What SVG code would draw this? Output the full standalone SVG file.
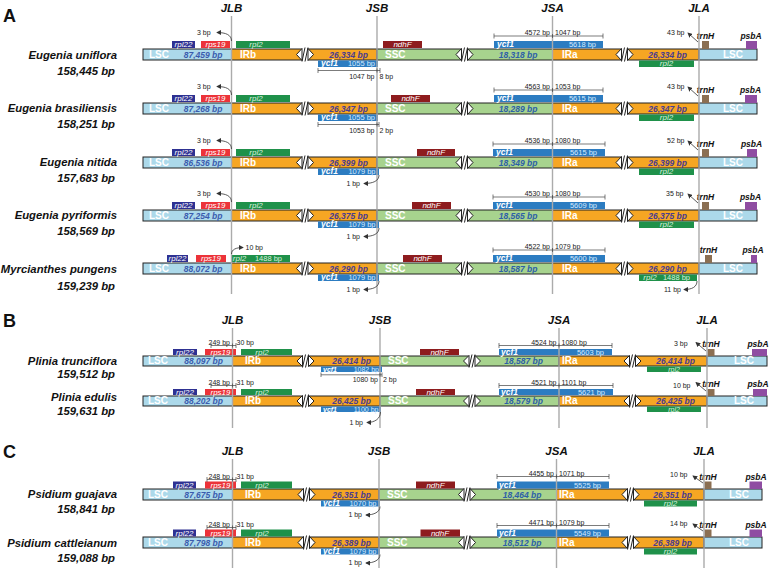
<svg xmlns="http://www.w3.org/2000/svg" width="771" height="568" viewBox="0 0 771 568">
<style>
text{font-family:"Liberation Sans",Arial,Helvetica,sans-serif}
.rpl22{fill:#2e3192}.rps19{fill:#ec3339}.rpl2{fill:#1f914a}.ndhF{fill:#8e1c1e}.ycf1{fill:#2c7cc1}.trnH{fill:#8b6f52}.psbA{fill:#8f4da2}
.jl{stroke:#ababab;stroke-width:1.4;fill:none}
.pl{font-size:18px;font-weight:bold;fill:#111}
.hd{font-size:11.5px;font-weight:bold;font-style:italic;text-anchor:middle;fill:#111}
.sp{font-size:11.3px;font-weight:bold;font-style:italic;text-anchor:end;fill:#111}
.seg{font-size:10px;font-weight:bold;fill:#fff}
.nl,.ni,.ns{font-size:8.5px;font-weight:bold;font-style:italic;text-anchor:end}
.nl{fill:#3b5cae}.ni{fill:#4a3c90}.ns{fill:#2d60a8}
.gn{font-size:8px;font-style:italic;fill:#fff;text-anchor:middle}
.yc{font-size:8.5px;font-weight:bold;font-style:italic;fill:#fff}
.ln{font-size:7.5px;fill:#d6eaff;text-anchor:end}
.lg{fill:#d9f0dd}
.sm{font-size:7px}
.gt{font-size:8.5px;font-weight:bold;font-style:italic;fill:#111;text-anchor:middle}
.bp{font-size:7px;fill:#222}
.e{text-anchor:end}.m{text-anchor:middle}
.br{stroke:#444;stroke-width:0.7;fill:none}
.ar{stroke:#333;stroke-width:0.8;fill:none;marker-end:url(#ah)}
</style>
<defs>
<marker id="ah" viewBox="0 0 6 6" refX="5" refY="3" markerWidth="5" markerHeight="5" orient="auto" markerUnits="userSpaceOnUse"><path d="M0,0 L6,3 L0,6 Z" fill="#333"/></marker>
<g id="bk11"><path d="M0.5,-0.5 V11.5 L-5,5.5 Z M6.5,-0.5 V11.5 L12,5.5 Z" fill="#fff"/><path d="M0.5,12.5 L3.5,-1.5 M3.5,12.5 L6.5,-1.5" stroke="#222" stroke-width="1" fill="none"/></g>
<g id="bk10"><path d="M0.5,-0.5 V10.5 L-5,5 Z M6.5,-0.5 V10.5 L12,5 Z" fill="#fff"/><path d="M0.5,11.5 L3.5,-1.5 M3.5,11.5 L6.5,-1.5" stroke="#222" stroke-width="1" fill="none"/></g>
<g id="barA" stroke="#222" stroke-width="1">
<rect fill="#acd9ea" x="143" y="0" width="88.5" height="11"/>
<rect fill="#f6a623" x="231.5" y="0" width="70" height="11"/>
<rect fill="#f6a623" x="308.5" y="0" width="68.5" height="11"/>
<rect fill="#a7d38e" x="377" y="0" width="84" height="11"/>
<rect fill="#a7d38e" x="468" y="0" width="84.5" height="11"/>
<rect fill="#f6a623" x="552.5" y="0" width="68.5" height="11"/>
<rect fill="#f6a623" x="628" y="0" width="71" height="11"/>
<rect fill="#acd9ea" x="699" y="0" width="58" height="11"/>
<use href="#bk11" x="301.5"/><use href="#bk11" x="461"/><use href="#bk11" x="621"/>
</g>
<g id="barB" stroke="#222" stroke-width="1">
<rect fill="#acd9ea" x="143" y="0" width="89.5" height="10"/>
<rect fill="#f6a623" x="232.5" y="0" width="69.5" height="10"/>
<rect fill="#f6a623" x="309" y="0" width="71" height="10"/>
<rect fill="#a7d38e" x="380" y="0" width="88.5" height="10"/>
<rect fill="#a7d38e" x="475.5" y="0" width="83.5" height="10"/>
<rect fill="#f6a623" x="559" y="0" width="70" height="10"/>
<rect fill="#f6a623" x="636" y="0" width="71" height="10"/>
<rect fill="#acd9ea" x="707" y="0" width="60" height="10"/>
<use href="#bk10" x="302"/><use href="#bk10" x="468.5"/><use href="#bk10" x="629"/>
</g>
<g id="barC" stroke="#222" stroke-width="1">
<rect fill="#acd9ea" x="143" y="0" width="89.5" height="11"/>
<rect fill="#f6a623" x="232.5" y="0" width="70.5" height="11"/>
<rect fill="#f6a623" x="310" y="0" width="69" height="11"/>
<rect fill="#a7d38e" x="379" y="0" width="84.5" height="11"/>
<rect fill="#a7d38e" x="470.5" y="0" width="86" height="11"/>
<rect fill="#f6a623" x="556.5" y="0" width="70.5" height="11"/>
<rect fill="#f6a623" x="634" y="0" width="70" height="11"/>
<rect fill="#acd9ea" x="704" y="0" width="58" height="11"/>
<use href="#bk11" x="303"/><use href="#bk11" x="463.5"/><use href="#bk11" x="627"/>
</g>
</defs>
<rect x="0" y="0" width="771" height="568" fill="#fff"/>

<g id="headers">
<text class="pl" x="3" y="22">A</text>
<text class="hd" x="231.5" y="11.5">JLB</text><text class="hd" x="377" y="11.5">JSB</text><text class="hd" x="552.5" y="11.5">JSA</text><text class="hd" x="699" y="11.5">JLA</text>
<text class="pl" x="3" y="327">B</text>
<text class="hd" x="232.5" y="324">JLB</text><text class="hd" x="380" y="324">JSB</text><text class="hd" x="559" y="324">JSA</text><text class="hd" x="707" y="324">JLA</text>
<text class="pl" x="3" y="458">C</text>
<text class="hd" x="232.5" y="455">JLB</text><text class="hd" x="379" y="455">JSB</text><text class="hd" x="556.5" y="455">JSA</text><text class="hd" x="704" y="455">JLA</text>
</g>

<g id="eugenia-uniflora">
<use href="#barA" y="49"/>
<rect class="rpl22" x="172" y="41" width="23" height="7"/><rect class="rps19" x="201" y="41" width="29" height="7"/><rect class="rpl2" x="236" y="41" width="54" height="7"/>
<rect class="ndhF" x="383" y="41" width="39" height="7"/><rect class="ycf1" x="494" y="41" width="109" height="7"/>
<rect class="trnH" x="702" y="41" width="7" height="8"/><rect class="psbA" x="746" y="41" width="11" height="8"/>
<rect class="ycf1" x="318" y="60.5" width="60" height="6.5"/><rect class="rpl2" x="639" y="60.5" width="55" height="6.5"/>
<text class="gn" x="183.5" y="47">rpl22</text><text class="gn" x="215.5" y="47">rps19</text><text class="gn lg" x="256" y="47">rpl2</text>
<text class="gn" x="402.5" y="47">ndhF</text><text class="yc" x="497" y="47">ycf1</text><text class="ln" x="596" y="47">5618 bp</text>
<text class="gt" x="705.5" y="39">trnH</text><text class="gt" x="751" y="39">psbA</text>
<text class="yc" x="321" y="66.3">ycf1</text><text class="ln" x="375" y="66.3">1055 bp</text><text class="gn lg" x="666.5" y="66.3">rpl2</text>
<text class="seg" x="149" y="57.8">LSC</text><text class="nl" x="222.5" y="57.8">87,459 bp</text><text class="seg" x="240" y="57.8">IRb</text><text class="ni" x="368" y="57.8">26,334 bp</text>
<text class="seg" x="385" y="57.8">SSC</text><text class="ns" x="537.5" y="57.8">18,318 bp</text><text class="seg" x="562" y="57.8">IRa</text><text class="ni" x="687" y="57.8">26,334 bp</text><text class="seg m" x="733" y="57.8">LSC</text>
<text class="sp" x="117" y="59">Eugenia uniflora</text><text class="sp" x="115" y="75">158,445 bp</text>
</g>

<g id="eugenia-brasiliensis">
<use href="#barA" y="103"/>
<rect class="rpl22" x="172" y="95" width="23" height="7"/><rect class="rps19" x="201" y="95" width="29" height="7"/><rect class="rpl2" x="236" y="95" width="54" height="7"/>
<rect class="ndhF" x="391" y="95" width="39" height="7"/><rect class="ycf1" x="494" y="95" width="109" height="7"/>
<rect class="trnH" x="702" y="95" width="7" height="8"/><rect class="psbA" x="745" y="95" width="12" height="8"/>
<rect class="ycf1" x="318" y="114.5" width="60" height="6.5"/><rect class="rpl2" x="639" y="114.5" width="55" height="6.5"/>
<text class="gn" x="183.5" y="101">rpl22</text><text class="gn" x="215.5" y="101">rps19</text><text class="gn lg" x="256" y="101">rpl2</text>
<text class="gn" x="410.5" y="101">ndhF</text><text class="yc" x="497" y="101">ycf1</text><text class="ln" x="596" y="101">5615 bp</text>
<text class="gt" x="705.5" y="93">trnH</text><text class="gt" x="750.5" y="93">psbA</text>
<text class="yc" x="321" y="120.3">ycf1</text><text class="ln" x="375" y="120.3">1055 bp</text><text class="gn lg" x="666.5" y="120.3">rpl2</text>
<text class="seg" x="149" y="111.8">LSC</text><text class="nl" x="222.5" y="111.8">87,268 bp</text><text class="seg" x="240" y="111.8">IRb</text><text class="ni" x="368" y="111.8">26,347 bp</text>
<text class="seg" x="385" y="111.8">SSC</text><text class="ns" x="537.5" y="111.8">18,289 bp</text><text class="seg" x="562" y="111.8">IRa</text><text class="ni" x="687" y="111.8">26,347 bp</text><text class="seg m" x="733" y="111.8">LSC</text>
<text class="sp" x="117" y="112">Eugenia brasiliensis</text><text class="sp" x="115" y="128">158,251 bp</text>
</g>

<g id="eugenia-nitida">
<use href="#barA" y="157"/>
<rect class="rpl22" x="172" y="149" width="23" height="7"/><rect class="rps19" x="201" y="149" width="29" height="7"/><rect class="rpl2" x="236" y="149" width="54" height="7"/>
<rect class="ndhF" x="417" y="149" width="38" height="7"/><rect class="ycf1" x="493" y="149" width="112" height="7"/>
<rect class="trnH" x="702" y="149" width="7" height="8"/><rect class="psbA" x="747" y="149" width="10" height="8"/>
<rect class="ycf1" x="318" y="168.5" width="61" height="6.5"/><rect class="rpl2" x="639" y="168.5" width="55" height="6.5"/>
<text class="gn" x="183.5" y="155">rpl22</text><text class="gn" x="215.5" y="155">rps19</text><text class="gn lg" x="256" y="155">rpl2</text>
<text class="gn" x="436" y="155">ndhF</text><text class="yc" x="496" y="155">ycf1</text><text class="ln" x="597" y="155">5615 bp</text>
<text class="gt" x="705.5" y="147">trnH</text><text class="gt" x="751.5" y="147">psbA</text>
<text class="yc" x="321" y="174.3">ycf1</text><text class="ln" x="375.5" y="174.3">1079 bp</text><text class="gn lg" x="666.5" y="174.3">rpl2</text>
<text class="seg" x="149" y="165.8">LSC</text><text class="nl" x="222.5" y="165.8">86,536 bp</text><text class="seg" x="240" y="165.8">IRb</text><text class="ni" x="368" y="165.8">26,399 bp</text>
<text class="seg" x="385" y="165.8">SSC</text><text class="ns" x="537.5" y="165.8">18,349 bp</text><text class="seg" x="562" y="165.8">IRa</text><text class="ni" x="687" y="165.8">26,399 bp</text><text class="seg m" x="733" y="165.8">LSC</text>
<text class="sp" x="117" y="166">Eugenia nitida</text><text class="sp" x="115" y="182">157,683 bp</text>
</g>

<g id="eugenia-pyriformis">
<use href="#barA" y="210"/>
<rect class="rpl22" x="172" y="202" width="23" height="7"/><rect class="rps19" x="201" y="202" width="29" height="7"/><rect class="rpl2" x="236" y="202" width="54" height="7"/>
<rect class="ndhF" x="412" y="202" width="39" height="7"/><rect class="ycf1" x="493" y="202" width="112" height="7"/>
<rect class="trnH" x="702" y="202" width="7" height="8"/><rect class="psbA" x="745" y="202" width="12" height="8"/>
<rect class="ycf1" x="318" y="221.5" width="61" height="6.5"/><rect class="rpl2" x="639" y="221.5" width="55" height="6.5"/>
<text class="gn" x="183.5" y="208">rpl22</text><text class="gn" x="215.5" y="208">rps19</text><text class="gn lg" x="256" y="208">rpl2</text>
<text class="gn" x="431.5" y="208">ndhF</text><text class="yc" x="496" y="208">ycf1</text><text class="ln" x="597" y="208">5609 bp</text>
<text class="gt" x="705.5" y="200">trnH</text><text class="gt" x="750.5" y="200">psbA</text>
<text class="yc" x="321" y="227.3">ycf1</text><text class="ln" x="375.5" y="227.3">1079 bp</text><text class="gn lg" x="666.5" y="227.3">rpl2</text>
<text class="seg" x="149" y="218.8">LSC</text><text class="nl" x="222.5" y="218.8">87,254 bp</text><text class="seg" x="240" y="218.8">IRb</text><text class="ni" x="368" y="218.8">26,375 bp</text>
<text class="seg" x="385" y="218.8">SSC</text><text class="ns" x="537.5" y="218.8">18,565 bp</text><text class="seg" x="562" y="218.8">IRa</text><text class="ni" x="687" y="218.8">26,375 bp</text><text class="seg m" x="733" y="218.8">LSC</text>
<text class="sp" x="117" y="219">Eugenia pyriformis</text><text class="sp" x="115" y="235">158,569 bp</text>
</g>

<g id="myrcianthes-pungens">
<use href="#barA" y="263"/>
<rect class="rpl22" x="167" y="255" width="21" height="7"/><rect class="rps19" x="196" y="255" width="30" height="7"/><rect class="rpl2" x="231.5" y="255" width="58.5" height="7"/>
<rect class="ndhF" x="403" y="255" width="39" height="7"/><rect class="ycf1" x="493" y="255" width="112" height="7"/>
<rect class="trnH" x="705" y="255" width="7" height="8"/><rect class="psbA" x="751" y="255" width="6" height="8"/>
<rect class="ycf1" x="318" y="274.5" width="61" height="6.5"/><rect class="rpl2" x="639" y="274.5" width="58" height="6.5"/>
<text class="gn" x="177.5" y="261">rpl22</text><text class="gn" x="211" y="261">rps19</text><text class="gn lg" x="239.5" y="261">rpl2</text><text class="ln lg" x="282" y="261">1488 bp</text>
<text class="gn" x="422.5" y="261">ndhF</text><text class="yc" x="496" y="261">ycf1</text><text class="ln" x="597" y="261">5600 bp</text>
<text class="gt" x="708.5" y="253">trnH</text><text class="gt" x="753" y="253">psbA</text>
<text class="yc" x="321" y="280.3">ycf1</text><text class="ln" x="375.5" y="280.3">1079 bp</text><text class="gn lg" x="650" y="280.3">rpl2</text><text class="ln lg" x="690" y="280.3">1488 bp</text>
<text class="seg" x="149" y="271.8">LSC</text><text class="nl" x="222.5" y="271.8">88,072 bp</text><text class="seg" x="240" y="271.8">IRb</text><text class="ni" x="368" y="271.8">26,290 bp</text>
<text class="seg" x="385" y="271.8">SSC</text><text class="ns" x="537.5" y="271.8">18,587 bp</text><text class="seg" x="562" y="271.8">IRa</text><text class="ni" x="687" y="271.8">26,290 bp</text><text class="seg m" x="733" y="271.8">LSC</text>
<text class="sp" x="117" y="273">Myrcianthes pungens</text><text class="sp" x="115" y="290">159,239 bp</text>
</g>

<g id="plinia-trunciflora">
<use href="#barB" y="356"/>
<rect class="rpl22" x="173" y="349" width="24" height="6"/><rect class="rps19" x="205" y="349" width="31" height="6"/><rect class="rpl2" x="241" y="349" width="51" height="6"/>
<rect class="ndhF" x="420" y="349" width="39" height="6"/><rect class="ycf1" x="499" y="349" width="113" height="6"/>
<rect class="trnH" x="707.5" y="349" width="7" height="7"/><rect class="psbA" x="752" y="349" width="15" height="7"/>
<rect class="ycf1" x="321" y="366.5" width="61" height="5.5"/><rect class="rpl2" x="647" y="366.5" width="54" height="5.5"/>
<text class="gn" x="185" y="354.5">rpl22</text><text class="gn" x="220.5" y="354.5">rps19</text><text class="gn lg" x="262" y="354.5">rpl2</text>
<text class="gn" x="439.5" y="354.5">ndhF</text><text class="yc" x="501" y="354.5">ycf1</text><text class="ln" x="604" y="354.5">5603 bp</text>
<text class="gt" x="711" y="347">trnH</text><text class="gt" x="758" y="347">psbA</text>
<text class="yc sm" x="323" y="372.3">ycf1</text><text class="ln sm" x="379" y="372.3">1082 bp</text><text class="gn lg sm" x="674" y="372.3">rpl2</text>
<text class="seg" x="148" y="364">LSC</text><text class="nl" x="223" y="364">88,097 bp</text><text class="seg" x="245" y="364">IRb</text><text class="ni" x="371" y="364">26,414 bp</text>
<text class="seg" x="388" y="364">SSC</text><text class="ns" x="543" y="364">18,587 bp</text><text class="seg" x="562" y="364">IRa</text><text class="ni" x="695" y="364">26,414 bp</text><text class="seg m" x="744" y="364">LSC</text>
<text class="sp" x="117" y="365">Plinia trunciflora</text><text class="sp" x="115" y="378">159,512 bp</text>
</g>

<g id="plinia-edulis">
<use href="#barB" y="396"/>
<rect class="rpl22" x="173" y="389" width="24" height="6"/><rect class="rps19" x="205" y="389" width="31" height="6"/><rect class="rpl2" x="241" y="389" width="51" height="6"/>
<rect class="ndhF" x="416" y="389" width="39" height="6"/><rect class="ycf1" x="499" y="389" width="114" height="6"/>
<rect class="trnH" x="707.5" y="389" width="7" height="7"/><rect class="psbA" x="753" y="389" width="14" height="7"/>
<rect class="ycf1" x="321" y="406.5" width="60" height="5.5"/><rect class="rpl2" x="647" y="406.5" width="54" height="5.5"/>
<text class="gn" x="185" y="394.5">rpl22</text><text class="gn" x="220.5" y="394.5">rps19</text><text class="gn lg" x="262" y="394.5">rpl2</text>
<text class="gn" x="435.5" y="394.5">ndhF</text><text class="yc" x="501" y="394.5">ycf1</text><text class="ln" x="605" y="394.5">5621 bp</text>
<text class="gt" x="711" y="387">trnH</text><text class="gt" x="758" y="387">psbA</text>
<text class="yc sm" x="323" y="412.3">ycf1</text><text class="ln sm" x="378.5" y="412.3">1100 bp</text><text class="gn lg sm" x="674" y="412.3">rpl2</text>
<text class="seg" x="148" y="404">LSC</text><text class="nl" x="223" y="404">88,202 bp</text><text class="seg" x="245" y="404">IRb</text><text class="ni" x="371" y="404">26,425 bp</text>
<text class="seg" x="388" y="404">SSC</text><text class="ns" x="543" y="404">18,579 bp</text><text class="seg" x="562" y="404">IRa</text><text class="ni" x="695" y="404">26,425 bp</text><text class="seg m" x="744" y="404">LSC</text>
<text class="sp" x="117" y="401">Plinia edulis</text><text class="sp" x="115" y="415">159,631 bp</text>
</g>

<g id="psidium-guajava">
<use href="#barC" y="489"/>
<rect class="rpl22" x="173" y="481.5" width="23" height="7"/><rect class="rps19" x="205" y="481.5" width="31" height="7"/><rect class="rpl2" x="241" y="481.5" width="51" height="7"/>
<rect class="ndhF" x="416" y="481.5" width="39" height="7"/><rect class="ycf1" x="497" y="481.5" width="112" height="7"/>
<rect class="trnH" x="704.5" y="481.5" width="7" height="7.5"/><rect class="psbA" x="749.5" y="481.5" width="12.5" height="7.5"/>
<rect class="ycf1" x="321" y="500.5" width="59" height="6"/><rect class="rpl2" x="644" y="500.5" width="53" height="6"/>
<text class="gn" x="184.5" y="487.5">rpl22</text><text class="gn" x="220.5" y="487.5">rps19</text><text class="gn lg" x="262" y="487.5">rpl2</text>
<text class="gn" x="435.5" y="487.5">ndhF</text><text class="yc" x="499" y="487.5">ycf1</text><text class="ln" x="601" y="487.5">5525 bp</text>
<text class="gt" x="708" y="479.5">trnH</text><text class="gt" x="756" y="479.5">psbA</text>
<text class="yc" x="323" y="506">ycf1</text><text class="ln" x="376.5" y="506">1070 bp</text><text class="gn lg" x="670.5" y="506">rpl2</text>
<text class="seg" x="148" y="497.8">LSC</text><text class="nl" x="223" y="497.8">87,675 bp</text><text class="seg" x="245" y="497.8">IRb</text><text class="ni" x="371" y="497.8">26,351 bp</text>
<text class="seg" x="387" y="497.8">SSC</text><text class="ns" x="541.5" y="497.8">18,464 bp</text><text class="seg" x="559" y="497.8">IRa</text><text class="ni" x="692" y="497.8">26,351 bp</text><text class="seg m" x="739" y="497.8">LSC</text>
<text class="sp" x="117" y="498">Psidium guajava</text><text class="sp" x="115" y="513">158,841 bp</text>
</g>

<g id="psidium-cattleianum">
<use href="#barC" y="537"/>
<rect class="rpl22" x="173" y="529.5" width="23" height="7"/><rect class="rps19" x="205" y="529.5" width="31" height="7"/><rect class="rpl2" x="241" y="529.5" width="51" height="7"/>
<rect class="ndhF" x="420.5" y="529.5" width="39.5" height="7"/><rect class="ycf1" x="497" y="529.5" width="112" height="7"/>
<rect class="trnH" x="704.5" y="529.5" width="7" height="7.5"/><rect class="psbA" x="749.5" y="529.5" width="12.5" height="7.5"/>
<rect class="ycf1" x="321" y="548.5" width="59" height="6"/><rect class="rpl2" x="644" y="548.5" width="53" height="6"/>
<text class="gn" x="184.5" y="535.5">rpl22</text><text class="gn" x="220.5" y="535.5">rps19</text><text class="gn lg" x="262" y="535.5">rpl2</text>
<text class="gn" x="440" y="535.5">ndhF</text><text class="yc" x="499" y="535.5">ycf1</text><text class="ln" x="601" y="535.5">5549 bp</text>
<text class="gt" x="708" y="527.5">trnH</text><text class="gt" x="756" y="527.5">psbA</text>
<text class="yc" x="323" y="554">ycf1</text><text class="ln" x="376.5" y="554">1079 bp</text><text class="gn lg" x="670.5" y="554">rpl2</text>
<text class="seg" x="148" y="545.8">LSC</text><text class="nl" x="223" y="545.8">87,798 bp</text><text class="seg" x="245" y="545.8">IRb</text><text class="ni" x="371" y="545.8">26,389 bp</text>
<text class="seg" x="387" y="545.8">SSC</text><text class="ns" x="541.5" y="545.8">18,512 bp</text><text class="seg" x="559" y="545.8">IRa</text><text class="ni" x="692" y="545.8">26,389 bp</text><text class="seg m" x="739" y="545.8">LSC</text>
<text class="sp" x="117" y="547">Psidium cattleianum</text><text class="sp" x="115" y="562">159,088 bp</text>
</g>

<g id="junction-lines">
<path class="jl" d="M231.5,16 V294 M377,16 V294 M552.5,16 V294 M699,16 V294"/>
<path class="jl" d="M232.5,328 V428 M380,328 V428 M559,328 V428 M707,328 V428"/>
<path class="jl" d="M232.5,459 V568 M379,459 V568 M556.5,459 V568 M704,459 V568"/>
</g>

<g id="connectors">
<text class="bp" x="197" y="35">3 bp</text><path class="ar" d="M231.5,41 C231.5,35 226,32.5 217,32.5"/>
<path class="br" d="M318,68 V73 M318,70.5 H380 M380,68 V73 M377,68.5 V72.5"/><text class="bp e" x="374.5" y="78.5">1047 bp</text><text class="bp" x="379.5" y="78.5">8 bp</text>
<path class="br" d="M494,33.5 V38.5 M494,36 H603 M603,33.5 V38.5 M552.5,34 V38"/><text class="bp e" x="550" y="35">4572 bp</text><text class="bp" x="555" y="35">1047 bp</text>
<text class="bp" x="667" y="35">43 bp</text><path class="ar" d="M698,42 L688,33"/>
<text class="bp" x="197" y="89">3 bp</text><path class="ar" d="M231.5,95 C231.5,89 226,86.5 217,86.5"/>
<path class="br" d="M318,122 V127 M318,124.5 H379 M379,122 V127 M377,122.5 V126.5"/><text class="bp e" x="374.5" y="132.5">1053 bp</text><text class="bp" x="379.5" y="132.5">2 bp</text>
<path class="br" d="M494,87.5 V92.5 M494,90 H603 M603,87.5 V92.5 M552.5,88 V92"/><text class="bp e" x="550" y="89">4563 bp</text><text class="bp" x="555" y="89">1053 bp</text>
<text class="bp" x="667" y="89">43 bp</text><path class="ar" d="M698,96 L688,87"/>
<text class="bp" x="197" y="143">3 bp</text><path class="ar" d="M231.5,149 C231.5,143 226,140.5 217,140.5"/>
<text class="bp e" x="360" y="185.5">1 bp</text><path class="ar" d="M379,175 C379,181 373,183.5 364,183.5"/>
<path class="br" d="M493,141.5 V146.5 M493,144 H605 M605,141.5 V146.5 M552.5,142 V146"/><text class="bp e" x="550" y="143">4536 bp</text><text class="bp" x="555" y="143">1080 bp</text>
<text class="bp" x="667" y="143">52 bp</text><path class="ar" d="M698,150 L688,141"/>
<text class="bp" x="197" y="196">3 bp</text><path class="ar" d="M231.5,202 C231.5,196 226,193.5 217,193.5"/>
<text class="bp e" x="360" y="238.5">1 bp</text><path class="ar" d="M379,228 C379,234 373,236.5 364,236.5"/>
<path class="br" d="M493,194.5 V199.5 M493,197 H605 M605,194.5 V199.5 M552.5,195 V199"/><text class="bp e" x="550" y="196">4530 bp</text><text class="bp" x="555" y="196">1080 bp</text>
<text class="bp" x="666" y="196">35 bp</text><path class="ar" d="M698,203 L688,194"/>
<text class="bp" x="245.5" y="250">10 bp</text><path class="ar" d="M231.5,254 C231.5,249.5 236,247.5 243,247.5"/>
<text class="bp e" x="360" y="291.5">1 bp</text><path class="ar" d="M379,281 C379,287 373,289.5 364,289.5"/>
<path class="br" d="M493,247.5 V252.5 M493,250 H605 M605,247.5 V252.5 M552.5,248 V252"/><text class="bp e" x="550" y="249">4522 bp</text><text class="bp" x="555" y="249">1079 bp</text>
<text class="bp e" x="681" y="292">11 bp</text><path class="ar" d="M697,281 C697,287 692,289.5 684,289.5"/>
<path class="br" d="M211,343 V348 M211,345.5 H236 M236,343 V348 M232.5,343.5 V347.5"/><text class="bp e" x="230" y="345">249 bp</text><text class="bp" x="236.5" y="345">30 bp</text>
<path class="br" d="M321,372.5 V377 M321,374.8 H382 M382,372.5 V377 M380,372.8 V376.8"/><text class="bp e" x="378" y="381.5">1080 bp</text><text class="bp" x="383" y="381.5">2 bp</text>
<path class="br" d="M499,343 V348 M499,345.5 H612 M612,343 V348 M559,343.5 V347.5"/><text class="bp e" x="556.5" y="345">4524 bp</text><text class="bp" x="561.5" y="345">1080 bp</text>
<text class="bp" x="674" y="345.5">3 bp</text><path class="ar" d="M706,351 L696,342.5"/>
<path class="br" d="M211,383 V388 M211,385.5 H236 M236,383 V388 M232.5,383.5 V387.5"/><text class="bp e" x="230" y="385">248 bp</text><text class="bp" x="236.5" y="385">31 bp</text>
<text class="bp e" x="363" y="425">1 bp</text><path class="ar" d="M380.5,412 C380.5,418.5 375,422.5 367,422.5"/>
<path class="br" d="M499,383 V388 M499,385.5 H613 M613,383 V388 M559,383.5 V387.5"/><text class="bp e" x="556.5" y="385">4521 bp</text><text class="bp" x="561.5" y="385">1101 bp</text>
<text class="bp" x="673" y="388">10 bp</text><path class="ar" d="M706,391 L696,382.5"/>
<path class="br" d="M207,477 V482 M207,479.5 H236 M236,477 V482 M232.5,477.5 V481.5"/><text class="bp e" x="230" y="479">248 bp</text><text class="bp" x="236.5" y="479">31 bp</text>
<text class="bp e" x="362" y="517">1 bp</text><path class="ar" d="M380,506.5 C380,512 374,515 366,515"/>
<path class="br" d="M497,474 V479 M497,476.5 H609 M609,474 V479 M556.5,474.5 V478.5"/><text class="bp e" x="554" y="476">4455 bp</text><text class="bp" x="559" y="476">1071 bp</text>
<text class="bp" x="670" y="477">10 bp</text><path class="ar" d="M703,483 L693,476"/>
<path class="br" d="M207,525 V530 M207,527.5 H236 M236,525 V530 M232.5,525.5 V529.5"/><text class="bp e" x="230" y="527">248 bp</text><text class="bp" x="236.5" y="527">31 bp</text>
<text class="bp e" x="362" y="565">1 bp</text><path class="ar" d="M380,554.5 C380,560 374,563 366,563"/>
<path class="br" d="M497,523 V528 M497,525.5 H609 M609,523 V528 M556.5,523.5 V527.5"/><text class="bp e" x="554" y="525">4471 bp</text><text class="bp" x="559" y="525">1079 bp</text>
<text class="bp" x="670" y="526">14 bp</text><path class="ar" d="M703,531 L693,524"/>
</g>
</svg>
